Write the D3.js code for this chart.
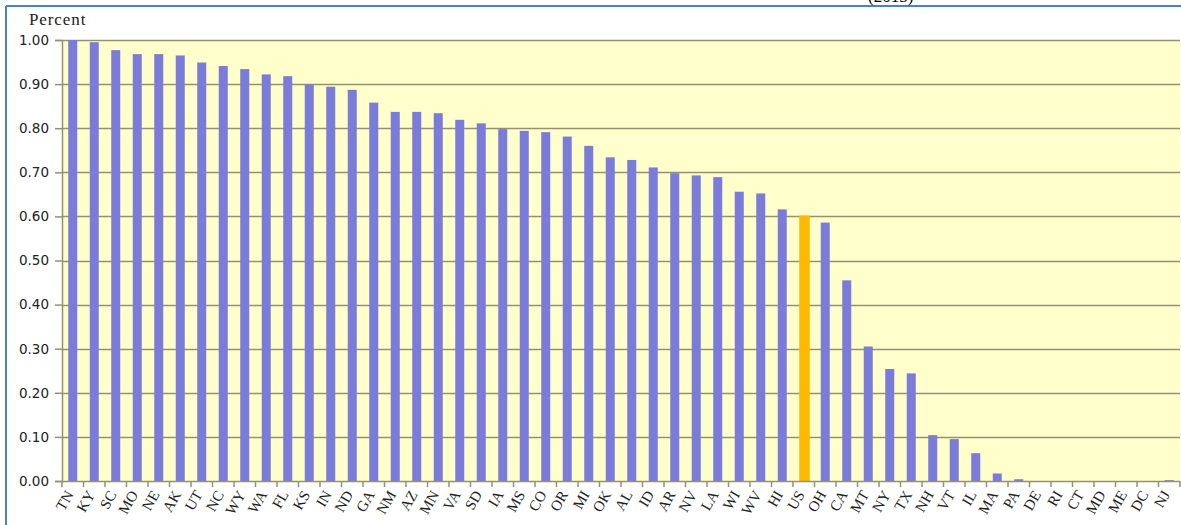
<!DOCTYPE html>
<html>
<head>
<meta charset="utf-8">
<script src="https://cdn.jsdelivr.net/npm/d3@7"></script>
<style>
    body { margin: 0; background: #fff; }
    #chart-container { width: 1181px; height: 525px; overflow: hidden; }
</style>
</head>
<body>
<div id="chart-container"></div>
<script>
// State codes, in the order shown on the chart
const states = ["TN", "KY", "SC", "MO", "NE", "AK", "UT", "NC", "WY", "WA", "FL", "KS", "IN", "ND", "GA", "NM",
    "AZ", "MN", "VA", "SD", "IA", "MS", "CO", "OR", "MI", "OK", "AL", "ID", "AR", "NV", "LA", "WI", "WV", "HI",
    "US", "OH", "CA", "MT", "NY", "TX", "NH", "VT", "IL", "MA", "PA", "DE", "RI", "CT", "MD", "ME", "DC", "NJ"];

// Values
const percents = [1.000, 0.995, 0.977, 0.968, 0.968, 0.965, 0.949, 0.941, 0.934, 0.922, 0.918, 0.899, 0.894, 0.887, 0.858, 0.837,
    0.837, 0.834, 0.819, 0.811, 0.798, 0.794, 0.791, 0.781, 0.760, 0.734, 0.728, 0.711, 0.698, 0.693, 0.689, 0.656, 0.652, 0.616,
    0.602, 0.586, 0.455, 0.305, 0.254, 0.244, 0.104, 0.095, 0.063, 0.017, 0.004, 0, 0, 0, 0, 0, 0, 0.002];

const yTicks = [0, 0.1, 0.2, 0.3, 0.4, 0.5, 0.6, 0.7, 0.8, 0.9, 1.0];
const highlight = "US";

function createChart() {
    const container = d3.select("#chart-container");
    container.html("");

    const width = 1181;
    const height = 525;
    const plot = { left: 62, right: 1180, top: 40, bottom: 481 };
    const gridColor = "#929272";

    const data = states.map((s, i) => ({ state: s, value: percents[i] }));

    const svg = container.append("svg")
        .attr("width", width)
        .attr("height", height);

    // Scales
    const x = d3.scaleBand()
        .domain(states)
        .range([plot.left, plot.right])
        .paddingInner(0.58)
        .paddingOuter(0.29);

    const y = d3.scaleLinear()
        .domain([0, 1])
        .range([plot.bottom, plot.top]);

    // Frame lines (left and top, blue)
    svg.append("line")
        .attr("x1", 6).attr("y1", 6).attr("x2", 6).attr("y2", height)
        .style("stroke", "#4f81bd").style("stroke-width", 2);
    svg.append("line")
        .attr("x1", 6).attr("y1", 6).attr("x2", width).attr("y2", 6)
        .style("stroke", "#4f81bd").style("stroke-width", 2);

    // Title fragment above the frame (cut off, as in the source)
    svg.append("text")
        .attr("x", 868)
        .attr("y", 2)
        .style("font-family", "'Liberation Serif', serif")
        .style("font-size", "17px")
        .text("(2015)");

    // Plot background
    svg.append("rect")
        .attr("x", plot.left)
        .attr("y", plot.top)
        .attr("width", plot.right - plot.left)
        .attr("height", plot.bottom - plot.top)
        .style("fill", "#ffffcc");

    // Horizontal gridlines
    svg.append("g")
        .selectAll("line")
        .data(yTicks.filter(t => t > 0))
        .enter()
        .append("line")
        .attr("x1", plot.left)
        .attr("x2", plot.right)
        .attr("y1", d => Math.round(y(d)) + 0.5)
        .attr("y2", d => Math.round(y(d)) + 0.5)
        .style("stroke", gridColor)
        .style("stroke-width", 1.5);

    // Bars
    svg.append("g")
        .selectAll("rect")
        .data(data)
        .enter()
        .append("rect")
        .attr("x", d => x(d.state))
        .attr("y", d => y(d.value))
        .attr("width", d => d.state === highlight ? x.bandwidth() + 1.5 : x.bandwidth())
        .attr("height", d => plot.bottom - y(d.value))
        .style("fill", d => d.state === highlight ? "#ffb900" : "#7b7bd9");

    // Y axis
    const yAxis = svg.append("g")
        .attr("transform", `translate(${plot.left},0)`)
        .call(d3.axisLeft(y).tickValues(yTicks).tickFormat(d3.format(".2f")).tickSize(7).tickPadding(6));
    yAxis.select(".domain").style("stroke", gridColor).style("stroke-width", 1.5);
    yAxis.selectAll(".tick line").style("stroke", gridColor).style("stroke-width", 1.5);
    yAxis.selectAll(".tick text")
        .style("font-family", "'DejaVu Sans', Verdana, sans-serif")
        .style("font-size", "13.5px")
        .style("fill", "#222");

    // X axis baseline
    svg.append("line")
        .attr("x1", plot.left)
        .attr("x2", plot.right)
        .attr("y1", plot.bottom + 0.5)
        .attr("y2", plot.bottom + 0.5)
        .style("stroke", gridColor)
        .style("stroke-width", 1.5);

    // Category tick marks at band boundaries
    const boundaries = d3.range(states.length + 1).map(i => plot.left + i * x.step());
    svg.append("g")
        .selectAll("line")
        .data(boundaries)
        .enter()
        .append("line")
        .attr("x1", d => d)
        .attr("x2", d => d)
        .attr("y1", plot.bottom)
        .attr("y2", plot.bottom + 6)
        .style("stroke", gridColor)
        .style("stroke-width", 1.5);

    // Rotated state labels (steep slant, reading upward)
    svg.append("g")
        .selectAll("text")
        .data(states)
        .enter()
        .append("text")
        .attr("transform", d => `translate(${x(d) + x.bandwidth() / 2 - 8},${plot.bottom + 8}) rotate(-60)`)
        .attr("text-anchor", "end")
        .attr("dy", "0.72em")
        .style("font-family", "'Liberation Serif', serif")
        .style("font-size", "15px")
        .style("fill", "#222")
        .text(d => d);

    // Axis title
    svg.append("text")
        .attr("x", 29)
        .attr("y", 25)
        .style("font-family", "'Liberation Serif', serif")
        .style("font-size", "17px")
        .style("letter-spacing", "0.9px")
        .style("fill", "#222")
        .text("Percent");
}

createChart();
</script>
</body>
</html>
